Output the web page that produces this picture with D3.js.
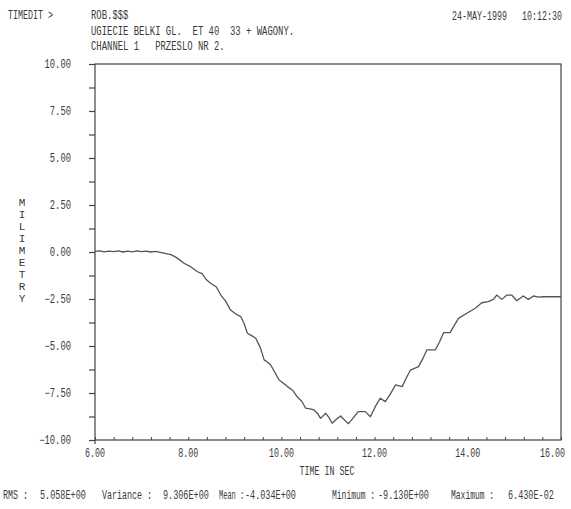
<!DOCTYPE html>
<html>
<head>
<meta charset="utf-8">
<script src="https://cdn.jsdelivr.net/npm/d3@7"></script>
<style>
  body { margin: 0; background: #fff; }
  text { font-family: "Liberation Mono", "DejaVu Sans Mono", monospace; fill: #3a3a3a; white-space: pre; }
</style>
</head>
<body>
<svg id="chart"></svg>
<script>
const width = 571, height = 509;

// signal: time (s) and deflection (mm)
const times = [
  6.00, 6.10, 6.20, 6.30, 6.40, 6.50, 6.60, 6.70, 6.80, 6.90, 7.00, 7.10, 7.20, 7.30, 7.40, 7.50,
  7.63, 7.75, 7.91, 8.05, 8.20, 8.30, 8.38, 8.48, 8.60, 8.70, 8.80, 8.91, 9.02, 9.13, 9.20, 9.27,
  9.36, 9.45, 9.55, 9.63, 9.70, 9.77, 9.86, 9.95, 10.05, 10.13, 10.24, 10.34, 10.44, 10.52, 10.61,
  10.70, 10.78, 10.84, 10.95, 11.02, 11.09, 11.18, 11.27, 11.36, 11.44, 11.55, 11.65, 11.80, 11.91,
  12.02, 12.12, 12.23, 12.34, 12.45, 12.59, 12.68, 12.77, 12.94, 13.03, 13.12, 13.30, 13.39, 13.48,
  13.62, 13.71, 13.80, 13.98, 14.16, 14.30, 14.44, 14.55, 14.62, 14.73, 14.84, 14.94, 15.05, 15.19,
  15.30, 15.41, 15.52, 15.62, 15.80, 16.00
];
const values = [
  0.03, 0.06, 0.01, 0.05, 0.02, 0.06, 0.00, 0.05, 0.01, 0.06, 0.02, 0.05, 0.00, 0.03, -0.02, -0.07,
  -0.14, -0.30, -0.60, -0.78, -1.05, -1.15, -1.45, -1.66, -1.85, -2.29, -2.60, -3.09, -3.30, -3.44, -3.80, -4.32,
  -4.45, -4.59, -5.10, -5.74, -5.85, -6.01, -6.40, -6.81, -7.00, -7.16, -7.35, -7.70, -7.95, -8.31, -8.35,
  -8.40, -8.60, -8.85, -8.58, -8.80, -9.11, -8.90, -8.72, -8.95, -9.13, -8.80, -8.49, -8.49, -8.76,
  -8.20, -7.78, -7.96, -7.55, -7.07, -7.16, -6.70, -6.28, -6.10, -5.70, -5.21, -5.21, -4.80, -4.29,
  -4.29, -3.90, -3.53, -3.26, -2.99, -2.70, -2.64, -2.52, -2.29, -2.52, -2.29, -2.29, -2.59, -2.34,
  -2.52, -2.34, -2.40, -2.38, -2.38, -2.38
];

const yMajor = [10, 7.5, 5, 2.5, 0, -2.5, -5, -7.5, -10];
const yMinor = d3.range(-10, 10.01, 1.25);
const xMajor = [6, 8, 10, 12, 14, 16];
const xMinor = d3.range(6, 16.01, 0.4);

const headerLines = ["ROB.$$$", "UGIECIE BELKI GL.  ET 40  33 + WAGONY.", "CHANNEL 1   PRZESLO NR 2."];
const statNames = ["RMS :", "Variance :", "Mean :", "Minimum :", "Maximum :"];
const statValues = ["5.058E+00", "9.306E+00", "-4.034E+00", "-9.130E+00", "6.430E-02"];

const margin = {top: 64, right: 10, bottom: 69, left: 95};
const svg = d3.select("#chart").attr("width", width).attr("height", height);

const x = d3.scaleLinear().domain([6, 16]).range([margin.left, 561]);
const y = d3.scaleLinear().domain([-10, 10]).range([440, margin.top]);

const ink = "#444";

// narrow printer-style text: squeeze a 12px mono font to the given char pitch
function label(px, py, s, pitch, anchor) {
  return svg.append("text")
    .attr("transform", `translate(${px},${py + 4}) scale(${pitch / 7.2},1)`)
    .attr("font-size", 12)
    .attr("text-anchor", anchor || "start")
    .text(s);
}

// frame
svg.append("rect")
  .attr("x", x(6)).attr("y", y(10))
  .attr("width", x(16) - x(6)).attr("height", y(-10) - y(10))
  .attr("fill", "none").attr("stroke", ink).attr("stroke-width", 1.2);

// y axis ticks
const yAxis = svg.append("g").attr("transform", `translate(${x(6)},0)`)
  .call(d3.axisLeft(y).tickValues(yMinor).tickSize(6).tickSizeOuter(0).tickFormat(""));
yAxis.select(".domain").remove();
yAxis.selectAll("line").attr("stroke", ink).attr("stroke-width", 1.2);

yMajor.forEach(v => label(71, y(v), d3.format(".2f")(v), 5.3, "end"));

// x axis ticks (pointing in)
const xAxis = svg.append("g").attr("transform", `translate(0,${y(-10)})`)
  .call(d3.axisTop(x).tickValues(xMinor).tickSize(3).tickSizeOuter(0).tickFormat(""));
xAxis.select(".domain").remove();
xAxis.selectAll("line").attr("stroke", ink).attr("stroke-width", 1);
svg.append("line")
  .attr("x1", x(6)).attr("x2", x(6)).attr("y1", y(-10)).attr("y2", y(-10) + 4)
  .attr("stroke", ink).attr("stroke-width", 1.2);

xMajor.forEach((v, i) => {
  const last = i === xMajor.length - 1;
  label(last ? 565 : x(v), 453, d3.format(".2f")(v), 5.0, last ? "end" : "middle");
});

// axis titles
label(327, 471, "TIME IN SEC", 5.0, "middle");
"MILIMETRY".split("").forEach((c, i) => {
  svg.append("text")
    .attr("x", 22).attr("y", 202 + i * 12 + 4)
    .attr("font-size", 11).attr("text-anchor", "middle")
    .text(c);
});

// header
label(8, 15, "TIMEDIT >", 5.0);
headerLines.forEach((s, i) => label(91, 15 + i * 15.5, s, 5.35));
label(452, 16, "24-MAY-1999   10:12:30", 5.0);

// statistics line
const nameX = [3, 102, 219, 332, 451];
const namePitch = [5.0, 5.0, 4.2, 4.8, 4.8];
const valX = [40, 163, 245, 378, 508];
statNames.forEach((s, i) => label(nameX[i], 495, s, namePitch[i]));
statValues.forEach((s, i) => label(valX[i], 495, s, 5.1));

// signal
const line = d3.line().x((d, i) => x(times[i])).y(d => y(d));
svg.append("path")
  .datum(values)
  .attr("d", line)
  .attr("fill", "none")
  .attr("stroke", "#555")
  .attr("stroke-width", 1.3)
  .attr("stroke-linejoin", "round");
</script>
</body>
</html>
